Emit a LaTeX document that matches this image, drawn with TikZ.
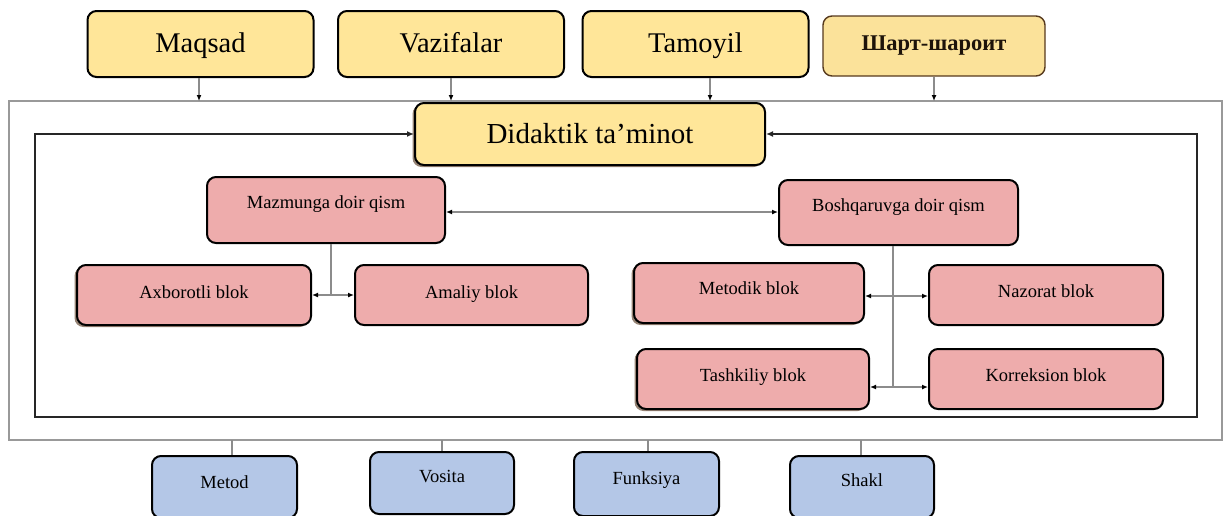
\documentclass[tikz,border=0pt]{standalone}
\usepackage{fontspec}
\setmainfont{Liberation Serif}
\usetikzlibrary{arrows.meta,shadows}
\definecolor{ybox}{HTML}{FFE699}
\definecolor{yboxb}{HTML}{FBE29A}
\definecolor{pbox}{HTML}{EEACAC}
\definecolor{bbox}{HTML}{B4C7E7}
\definecolor{shadowc}{HTML}{8A7565}
\tikzset{
  box/.style={draw=black, line width=2pt, rounded corners=9pt, inner sep=0pt},
  ybig/.style={box, fill=ybox, minimum width=226pt, minimum height=66pt,
    font=\fontsize{28.5}{30}\selectfont, text height=19pt, text depth=2pt},
  ysmall/.style={box, draw=black!55!brown, line width=1.4pt, fill=yboxb,
    font=\bfseries\fontsize{22.5}{24}\selectfont, text=black!85!brown},
  pinkbox/.style={box, fill=pbox, minimum width=234pt, minimum height=60pt},
  bluebox/.style={box, fill=bbox, minimum width=145pt, minimum height=62pt},
  shd/.style={drop shadow={shadow xshift=-2.5pt, shadow yshift=-2pt, fill=shadowc, opacity=0.9}},
  ptext/.style={font=\fontsize{18.5}{20}\selectfont, inner sep=0pt, text height=12.3pt, text depth=0pt},
  conn/.style={draw=black!45, line width=1.2pt},
  arr/.style={conn, -{Latex[length=6pt,width=5pt,fill=black,color=black]}},
  biarr/.style={conn, {Latex[length=6pt,width=5pt,fill=black,color=black]}-{Latex[length=6pt,width=5pt,fill=black,color=black]}},
  frameline/.style={draw=black!40, line width=1.5pt},
  loopline/.style={draw=black!85, line width=2.6pt, line join=miter,
    {Latex[length=7pt,width=6pt]}-{Latex[length=7pt,width=6pt]}},
}
\begin{document}
\begin{tikzpicture}[x=1pt,y=-1pt]
\useasboundingbox (0,0) rectangle (1224,515);

% outer gray frame
\node[frameline, rectangle, minimum width=1213pt, minimum height=339pt, inner sep=0pt] (frame) at (615.5,270.5) {};

% top boxes
\node[ybig] (maq) at (200.5,44) {Maqsad};
\node[ybig] (vaz) at (451,44) {Vazifalar};
\node[ybig] (tam) at (695.5,44) {Tamoyil};
\node[ysmall, minimum width=222pt, minimum height=60pt] (shart) at (934,46) {Шарт-шароит};

% central box
\node[ybig, shd, minimum width=350pt, minimum height=62pt, font=\fontsize{29}{31}\selectfont, text height=19.2pt, text depth=0pt] (did) at (590,134) {Didaktik ta’minot};

% arrows from top boxes to frame
\coordinate (a1) at (199,101);
\coordinate (a2) at (451,101);
\coordinate (a3) at (710,101);
\coordinate (a4) at (934,101);
\draw[arr] (maq.south -| a1) -- (a1);
\draw[arr] (vaz.south -| a2) -- (a2);
\draw[arr] (tam.south -| a3) -- (a3);
\draw[arr] (shart.south -| a4) -- (a4);

% feedback loop
\coordinate (lb) at (35,417);
\coordinate (rb) at (1197,417);
\draw[loopline] (did.west) -| (lb) -- (rb) |- (did.east);

% pink boxes
\node[pinkbox, minimum width=238pt, minimum height=66pt] (maz) at (326,210) {};
\node[ptext] (mazt) at ([yshift=8pt]maz.center) {Mazmunga doir qism};
\node[pinkbox, minimum width=239pt, minimum height=65pt] (bosh) at (898.5,212.5) {};
\node[ptext] (bosht) at ([yshift=7pt]bosh.center) {Boshqaruvga doir qism};

\node[pinkbox, shd] (axb) at (194,295) {};
\node[ptext] (axbt) at ([yshift=3pt]axb.center) {Axborotli blok};
\node[pinkbox, minimum width=233pt] (ama) at (471.5,295) {};
\node[ptext] (amat) at ([yshift=3pt]ama.center) {Amaliy blok};

\node[pinkbox, shd, minimum width=230pt] (met) at (749,293) {};
\node[ptext] (mett) at ([yshift=5pt]met.center) {Metodik blok};
\node[pinkbox] (naz) at (1046,295) {};
\node[ptext] (nazt) at ([yshift=4pt]naz.center) {Nazorat blok};
\node[pinkbox, shd, minimum width=232pt] (tash) at (753,379) {};
\node[ptext] (tasht) at ([yshift=4pt]tash.center) {Tashkiliy blok};
\node[pinkbox] (kor) at (1046,379) {};
\node[ptext] (kort) at ([yshift=4pt]kor.center) {Korreksion blok};

% pink connectors
\draw[biarr] ([yshift=-2pt]maz.east) -- ([yshift=-2pt]maz.east -| bosh.west);
\coordinate (mj) at (331,295);
\draw[conn] (maz.south -| mj) -- (mj);
\draw[arr] (mj) -- (axb.east |- mj);
\draw[arr] (mj) -- (ama.west |- mj);
\coordinate (bj1) at (893,296);
\coordinate (bj2) at (893,387);
\draw[conn] (bosh.south -| bj1) -- (bj2);
\draw[arr] (bj1) -- (met.east |- bj1);
\draw[arr] (bj1) -- (naz.west |- bj1);
\draw[arr] (bj2) -- (tash.east |- bj2);
\draw[arr] (bj2) -- (kor.west |- bj2);

% blue boxes
\node[bluebox] (metod) at (224.5,487) {};
\node[ptext] (metodt) at ([yshift=5pt]metod.center) {Metod};
\node[bluebox, minimum width=144pt] (vos) at (442,483) {};
\node[ptext] (vost) at ([yshift=7pt]vos.center) {Vosita};
\node[bluebox, minimum height=64pt] (fun) at (646.5,484) {};
\node[ptext] (funt) at ([yshift=6pt]fun.center) {Funksiya};
\node[bluebox, minimum width=144pt] (shk) at (862,487) {};
\node[ptext] (shkt) at ([yshift=7pt]shk.center) {Shakl};

\coordinate (b1) at (232,440);
\coordinate (b2) at (442,440);
\coordinate (b3) at (648,440);
\coordinate (b4) at (861,440);
\draw[conn] (b1) -- (b1 |- metod.north);
\draw[conn] (b2) -- (b2 |- vos.north);
\draw[conn] (b3) -- (b3 |- fun.north);
\draw[conn] (b4) -- (b4 |- shk.north);
\end{tikzpicture}
\end{document}
